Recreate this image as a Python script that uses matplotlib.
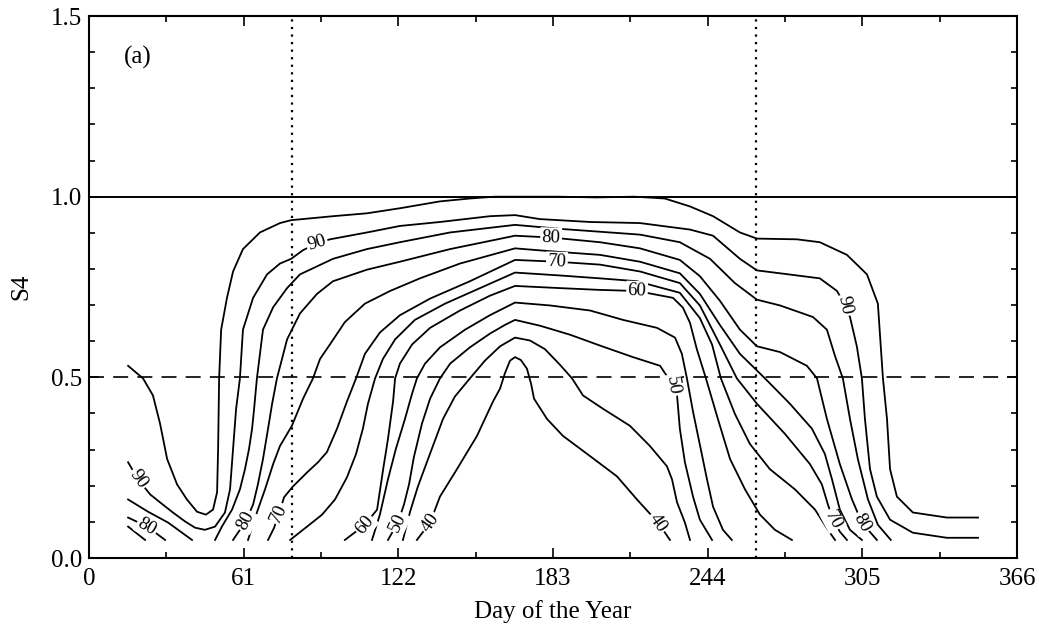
import matplotlib
matplotlib.use("Agg")
from matplotlib import pyplot as plt

# contour lines: day of year vs S4
day_95 = [15.4, 21.3, 25.2, 28.0, 30.8, 34.7, 38.6, 42.6, 46.1, 48.9, 50.5, 50.9, 51.3, 52.1, 54.4, 56.8,
          60.7, 67.4, 75.3, 79.7, 96.2, 109.6, 122.6, 138.4, 150.2, 160.0, 185.0, 200.0, 215.0, 227.1,
          237.0, 246.1, 256.7, 263.4, 279.2, 288.2, 298.9, 306.8, 311.1, 313.1, 314.7, 315.9, 318.6,
          324.9, 338.3, 350.6]
s4_95 = [0.532, 0.497, 0.450, 0.372, 0.274, 0.204, 0.162, 0.128, 0.120, 0.134, 0.182, 0.302, 0.497, 0.632,
         0.720, 0.793, 0.855, 0.901, 0.927, 0.935, 0.946, 0.954, 0.968, 0.987, 0.995, 1.0, 1.0, 0.998,
         1.0, 0.995, 0.973, 0.946, 0.901, 0.884, 0.882, 0.874, 0.839, 0.785, 0.704, 0.497, 0.385, 0.246,
         0.170, 0.126, 0.112, 0.112]

day_90 = [15.4, 19.3, 24.1, 28.0, 32.7, 37.9, 41.8, 45.7, 49.7, 53.6, 55.6, 56.8, 58.0, 59.5, 60.7, 64.7,
          70.2, 75.3, 79.7, 84.4, 89.9, 95.0, 109.6, 122.6, 138.4, 158.1, 168.0, 177.8, 197.6, 217.3,
          237.0, 246.1, 256.7, 263.4, 272.5, 288.2, 295.0, 298.1, 300.1, 302.8, 304.8, 306.0, 308.0,
          310.7, 315.9, 324.9, 338.3, 350.6]
s4_90 = [0.265, 0.218, 0.176, 0.154, 0.128, 0.101, 0.084, 0.078, 0.087, 0.126, 0.190, 0.302, 0.413, 0.497,
         0.632, 0.720, 0.785, 0.815, 0.828, 0.852, 0.871, 0.882, 0.901, 0.919, 0.930, 0.946, 0.949, 0.938,
         0.930, 0.927, 0.909, 0.892, 0.828, 0.796, 0.788, 0.774, 0.739, 0.699, 0.667, 0.586, 0.497, 0.385,
         0.246, 0.170, 0.106, 0.070, 0.056, 0.056]

day_85_left = [15.4, 23.3, 31.2, 40.6]
s4_85_left = [0.162, 0.128, 0.098, 0.05]
day_85 = [49.7, 52.4, 56.4, 59.5, 61.5, 63.1, 64.3, 65.1, 66.2, 68.6, 72.6, 78.1, 83.2, 96.2, 109.6, 122.6,
          142.4, 168.0, 185.7, 201.5, 217.3, 233.0, 244.9, 254.7, 263.4, 272.5, 285.5, 291.0, 294.2, 297.3,
          300.1, 303.2, 307.2, 311.1, 316.2]
s4_85 = [0.05, 0.087, 0.134, 0.190, 0.246, 0.302, 0.358, 0.413, 0.497, 0.632, 0.694, 0.747, 0.785, 0.828,
         0.855, 0.874, 0.901, 0.922, 0.911, 0.903, 0.895, 0.874, 0.828, 0.761, 0.715, 0.699, 0.667, 0.632,
         0.559, 0.497, 0.385, 0.274, 0.162, 0.092, 0.05]

day_80_left = [15.4, 22.9, 30.0]
s4_80_left = [0.112, 0.087, 0.05]
day_80 = [56.8, 59.5, 61.9, 64.7, 66.6, 68.6, 70.6, 72.2, 74.1, 78.1, 83.2, 89.9, 96.2, 109.6, 122.6, 142.4,
          168.0, 182.2, 201.5, 217.3, 233.0, 240.9, 248.8, 256.7, 263.4, 272.5, 283.1, 287.1, 291.0, 296.1,
          300.9, 304.8, 310.7]
s4_80 = [0.05, 0.078, 0.103, 0.148, 0.204, 0.274, 0.358, 0.427, 0.497, 0.605, 0.677, 0.731, 0.766, 0.798,
         0.820, 0.855, 0.892, 0.887, 0.874, 0.857, 0.825, 0.780, 0.712, 0.632, 0.586, 0.570, 0.532, 0.497,
         0.385, 0.260, 0.162, 0.098, 0.05]

day_75_left = [15.4, 22.1]
s4_75_left = [0.087, 0.05]
day_75 = [62.7, 65.9, 69.4, 72.6, 75.3, 80.0, 84.4, 88.3, 91.1, 95.0, 100.9, 108.8, 118.7, 130.5, 146.3,
          168.0, 185.7, 201.5, 217.3, 233.0, 240.9, 248.8, 256.7, 263.4, 266.6, 276.4, 285.1, 290.2, 293.0,
          296.1, 300.1, 304.8]
s4_75 = [0.05, 0.120, 0.190, 0.260, 0.310, 0.366, 0.441, 0.497, 0.551, 0.591, 0.653, 0.704, 0.739, 0.774,
         0.815, 0.857, 0.847, 0.839, 0.820, 0.788, 0.731, 0.645, 0.565, 0.519, 0.497, 0.427, 0.358, 0.288,
         0.218, 0.134, 0.078, 0.05]

day_70 = [70.6, 73.0, 74.9, 76.9, 80.4, 86.0, 90.3, 93.8, 97.8, 101.7, 105.3, 108.8, 114.7, 122.6, 134.5,
          150.2, 168.0, 184.5, 201.5, 217.3, 233.0, 240.9, 248.8, 255.5, 263.4, 274.4, 284.3, 289.0, 291.4,
          293.4, 296.1, 298.9]
s4_70 = [0.05, 0.084, 0.123, 0.168, 0.198, 0.237, 0.265, 0.293, 0.358, 0.433, 0.497, 0.565, 0.624, 0.672,
         0.718, 0.766, 0.825, 0.820, 0.812, 0.793, 0.761, 0.699, 0.591, 0.497, 0.427, 0.344, 0.260, 0.204,
         0.148, 0.106, 0.073, 0.05]

day_65 = [79.3, 86.0, 91.9, 97.0, 101.7, 105.3, 108.0, 110.0, 112.8, 115.9, 120.7, 128.5, 140.4, 154.2,
          168.0, 185.7, 201.5, 216.1, 233.0, 240.9, 245.7, 249.2, 254.7, 260.6, 268.5, 278.4, 286.3, 291.4,
          294.2]
s4_65 = [0.05, 0.087, 0.120, 0.162, 0.223, 0.288, 0.358, 0.427, 0.497, 0.551, 0.605, 0.659, 0.704, 0.747,
         0.790, 0.782, 0.774, 0.766, 0.734, 0.664, 0.591, 0.497, 0.399, 0.316, 0.246, 0.190, 0.134, 0.078,
         0.05]

day_60 = [100.9, 108.8, 113.6, 116.0, 117.9, 119.9, 120.7, 122.6, 127.4, 134.5, 146.3, 158.1, 168.0, 185.7,
          201.5, 216.1, 230.3, 234.2, 237.0, 239.7, 243.3, 248.0, 252.8, 258.7, 264.6, 270.5, 277.2]
s4_60 = [0.05, 0.092, 0.134, 0.246, 0.330, 0.433, 0.497, 0.538, 0.591, 0.637, 0.685, 0.726, 0.753, 0.747,
         0.742, 0.739, 0.720, 0.693, 0.651, 0.578, 0.497, 0.385, 0.274, 0.190, 0.120, 0.078, 0.05]

day_55 = [111.6, 114.7, 117.9, 121.0, 124.6, 127.4, 129.3, 132.5, 138.4, 148.3, 158.1, 168.0, 181.8, 197.6,
          210.6, 224.0, 231.1, 233.8, 235.8, 238.2, 241.0, 243.7, 246.1, 250.0, 253.5]
s4_55 = [0.05, 0.120, 0.218, 0.302, 0.385, 0.455, 0.497, 0.538, 0.583, 0.632, 0.672, 0.707, 0.699, 0.685,
         0.659, 0.637, 0.610, 0.565, 0.497, 0.405, 0.310, 0.218, 0.142, 0.078, 0.05]

day_50 = [117.9, 121.8, 124.2, 126.2, 128.1, 131.3, 134.5, 138.4, 142.4, 150.2, 158.1, 164.0, 168.0, 177.8,
          189.7, 201.5, 214.5, 225.2, 230.3, 231.9, 233.0, 235.0, 238.2, 240.9, 245.7]
s4_50 = [0.05, 0.098, 0.148, 0.204, 0.279, 0.372, 0.441, 0.497, 0.538, 0.583, 0.621, 0.645, 0.659, 0.643,
         0.618, 0.588, 0.556, 0.532, 0.478, 0.450, 0.358, 0.265, 0.170, 0.106, 0.05]

day_45 = [123.8, 126.6, 129.7, 133.7, 139.6, 144.3, 150.2, 156.1, 162.1, 168.0, 173.9, 179.8, 185.7, 190.5,
          194.8, 202.7, 213.3, 221.2, 227.9, 229.9, 231.9, 235.0, 237.0]
s4_45 = [0.05, 0.128, 0.198, 0.274, 0.385, 0.447, 0.497, 0.546, 0.586, 0.610, 0.602, 0.578, 0.535, 0.497,
         0.450, 0.413, 0.366, 0.310, 0.254, 0.218, 0.154, 0.098, 0.05]

day_40 = [129.3, 134.5, 138.4, 145.1, 153.0, 159.3, 162.1, 164.0, 166.0, 168.0, 170.3, 172.7, 174.3, 175.5,
          180.6, 186.9, 197.6, 208.2, 216.1, 224.4, 229.1]
s4_40 = [0.05, 0.098, 0.170, 0.246, 0.338, 0.433, 0.469, 0.511, 0.546, 0.556, 0.548, 0.524, 0.483, 0.441,
         0.385, 0.338, 0.282, 0.226, 0.162, 0.098, 0.05]

# inline contour labels
label_text = ["90", "80", "80", "70", "60", "50", "40", "90", "80", "70", "60", "50", "40", "70", "80", "90"]
label_day = [19.3, 22.9, 61.9, 74.9, 108.8, 121.8, 134.5, 89.9, 182.2, 184.5, 216.1, 230.3, 224.4, 293.4,
             304.8, 298.1]
label_s4 = [0.218, 0.087, 0.103, 0.123, 0.092, 0.098, 0.098, 0.871, 0.887, 0.820, 0.739, 0.478, 0.098, 0.106,
            0.098, 0.699]
label_rot = [-55, -30, 62, 65, 50, 65, 55, 17, -2, -2, -2, -82, -55, -62, -60, -78]

equinox_days = [80, 263]
x_ticks = [0, 61, 122, 183, 244, 305, 366]
y_ticks = [0.0, 0.5, 1.0, 1.5]

curves = [(day_95, s4_95), (day_90, s4_90), (day_85_left, s4_85_left), (day_85, s4_85),
          (day_80_left, s4_80_left), (day_80, s4_80), (day_75_left, s4_75_left), (day_75, s4_75),
          (day_70, s4_70), (day_65, s4_65), (day_60, s4_60), (day_55, s4_55), (day_50, s4_50),
          (day_45, s4_45), (day_40, s4_40)]

plt.rcParams['font.family'] = ['Liberation Serif', 'DejaVu Serif']

fig = plt.figure(figsize=(10.39, 6.26), dpi=100)
ax = fig.add_axes([0.0857, 0.1086, 0.8932, 0.8658])

for d, s in curves:
    ax.plot(d, s, color='black', lw=1.3, solid_joinstyle='round', zorder=2)

ax.axhline(1.0, color='black', lw=1.4, zorder=2)
ax.axhline(0.5, color='black', lw=1.2, linestyle=(0, (9, 5.5)), zorder=1)
for d in equinox_days:
    ax.axvline(d, color='black', lw=1.6, linestyle=(0, (1, 2.4)), zorder=1)

for txt, d, s, r in zip(label_text, label_day, label_s4, label_rot):
    ax.text(d, s, txt, rotation=r, rotation_mode='anchor', ha='center', va='center', fontsize=13.5,
            bbox=dict(boxstyle='square,pad=0.08', fc='white', ec='none'), zorder=3)

ax.text(0.053, 0.924, '(a)', transform=ax.transAxes, fontsize=18, ha='center', va='center')

ax.set_xlim(0, 366)
ax.set_ylim(0, 1.5)
ax.set_xticks(x_ticks)
ax.set_xticklabels([str(t) for t in x_ticks])
ax.set_xticks([t + 30.5 for t in x_ticks[:-1]], minor=True)
ax.set_yticks(y_ticks)
ax.set_yticklabels(['%.1f' % t for t in y_ticks])
ax.set_yticks([i / 10 for i in range(16)], minor=True)
ax.tick_params(which='both', direction='in', top=True, right=True, labelsize=18, width=1.2)
ax.tick_params(which='major', length=7)
ax.tick_params(which='minor', length=4)
ax.tick_params(axis='x', pad=7)
ax.tick_params(axis='y', pad=5)
for sp in ax.spines.values():
    sp.set_linewidth(1.5)

ax.set_xlabel('Day of the Year', fontsize=18)
ax.xaxis.set_label_coords(0.5, -0.078)
ax.xaxis.label.set_va('top')
ax.set_ylabel('S4', fontsize=18)
ax.yaxis.set_label_coords(-0.061, 0.5)

fig.savefig('out.png', dpi=100)
